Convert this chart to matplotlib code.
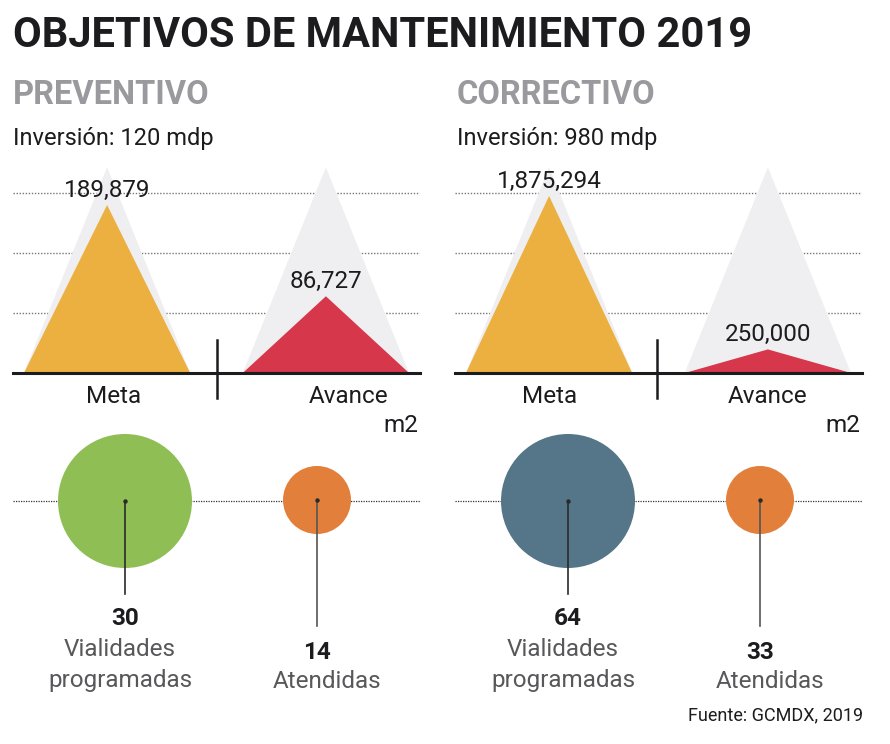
import matplotlib
matplotlib.use("Agg")
import matplotlib.pyplot as plt
from matplotlib.patches import Polygon, Circle

plt.rcParams['font.family'] = ['Roboto', 'DejaVu Sans']

# datos
titulo = "OBJETIVOS DE MANTENIMIENTO 2019"
secciones = ["PREVENTIVO", "CORRECTIVO"]
inversion = ["Inversión: 120 mdp", "Inversión: 980 mdp"]
categorias = ["Meta", "Avance"]
meta_m2 = [189879, 1875294]
avance_m2 = [86727, 250000]
vialidades = [30, 64]
atendidas = [14, 33]
fuente = "Fuente: GCMDX, 2019"

W, H = 890, 744
AMARILLO = "#ebb040"
ROJO = "#d6374b"
GRIS_TRI = "#efeff1"
VERDE = "#8fbe55"
NARANJA = "#e27f3b"
AZUL = "#557689"
NEGRO = "#1c1c1e"
GRIS_TXT = "#58585a"

fig = plt.figure(figsize=(W / 100, H / 100), dpi=100)


def px_axes(x0, y_top, w, h):
    return fig.add_axes([x0 / W, 1 - (y_top + h) / H, w / W, h / H])


# paneles de triangulos
paneles_x = [13, 455]
escala = [0.80, 0.843]   # fraccion de altura que ocupa la meta
base_y, alto = 373, 210
for k in range(2):
    ax = px_axes(paneles_x[k], base_y - alto, 407, alto)
    ax.set_xlim(-0.43, 1.43)
    ymax = meta_m2[k] / escala[k]
    ax.set_ylim(0, ymax)
    ax.axis('off')
    for f in [60 / alto, 120 / alto, 180 / alto]:
        ax.plot([0, 1], [f, f], transform=ax.transAxes, color="#777777",
                lw=1.0, ls=(0, (1, 1.2)), zorder=0)
    valores = [meta_m2[k], avance_m2[k]]
    colores = [AMARILLO, ROJO]
    w = 0.38
    for i, v in enumerate(valores):
        ax.add_patch(Polygon([(i - w, 0), (i, 0.98 * ymax), (i + w, 0)],
                             closed=True, color=GRIS_TRI, lw=0, zorder=1))
        ax.add_patch(Polygon([(i - w, 0), (i, v), (i + w, 0)],
                             closed=True, color=colores[i], lw=0, zorder=2))
        ax.annotate(f"{v:,}", (i, v), xytext=(0, 6), textcoords='offset points',
                    ha='center', va='baseline', fontsize=17.5, color=NEGRO, zorder=4)
    ax.axhline(0, color=NEGRO, lw=2.2, zorder=3, clip_on=False)

# capa de textos y circulos en pixeles
ov = fig.add_axes([0, 0, 1, 1])
ov.set_xlim(0, W)
ov.set_ylim(H, 0)
ov.axis('off')

ov.text(13, 47, titulo, fontsize=30, fontweight='bold', color=NEGRO, va='baseline')

secc_x = [13, 457]
cat_x = [[114, 349], [550, 768]]
sep_x = [217, 657]
circ_x = [[125, 317], [568, 760]]
color_grande = [VERDE, AZUL]
for k in range(2):
    x0 = secc_x[k]
    ov.text(x0, 104, secciones[k], fontsize=23.5, fontweight='bold', color="#9a9a9e", va='baseline')
    ov.text(x0, 145, inversion[k], fontsize=17, color=NEGRO, va='baseline')
    for i, c in enumerate(categorias):
        ov.text(cat_x[k][i], 403, c, fontsize=17.5, color=NEGRO, ha='center', va='baseline')
    ov.plot([sep_x[k], sep_x[k]], [340, 398], color=NEGRO, lw=1.8)
    ov.text(paneles_x[k] + 405, 432, "m2", fontsize=17.5, color=NEGRO, ha='right', va='baseline')

    # circulos
    lx0 = paneles_x[k]
    ov.plot([lx0, lx0 + 407], [501, 501], color="#333333", lw=0.9, ls=(0, (1, 1)), zorder=1)
    xg, xp = circ_x[k]
    ov.add_patch(Circle((xg, 501), 67, color=color_grande[k], lw=0, zorder=2))
    ov.add_patch(Circle((xp, 500), 34, color=NARANJA, lw=0, zorder=2))
    ov.plot([xg, xg], [501, 594], color="#2a2a2a", lw=1.2, zorder=3)
    ov.plot([xp, xp], [500, 626], color="#555555", lw=1.2, zorder=3)
    ov.plot([xg, xp], [501, 500], ls='none', marker='o', ms=2.2, color="#2a2a2a", zorder=4)
    ov.text(xg, 625, str(vialidades[k]), fontsize=17.5, fontweight='bold',
            color=NEGRO, ha='center', va='baseline')
    ov.text(xg - 5, 656, "Vialidades", fontsize=17.5, color=GRIS_TXT, ha='center', va='baseline')
    ov.text(xg - 5, 687, "programadas", fontsize=17.5, color=GRIS_TXT, ha='center', va='baseline')
    ov.text(xp, 659, str(atendidas[k]), fontsize=17.5, fontweight='bold',
            color=NEGRO, ha='center', va='baseline')
    ov.text(xp + 10, 688, "Atendidas", fontsize=17.5, color=GRIS_TXT, ha='center', va='baseline')

ov.text(863, 720, fuente, fontsize=13, color=NEGRO, ha='right', va='baseline')

fig.savefig("out.png", dpi=100, facecolor='white')
